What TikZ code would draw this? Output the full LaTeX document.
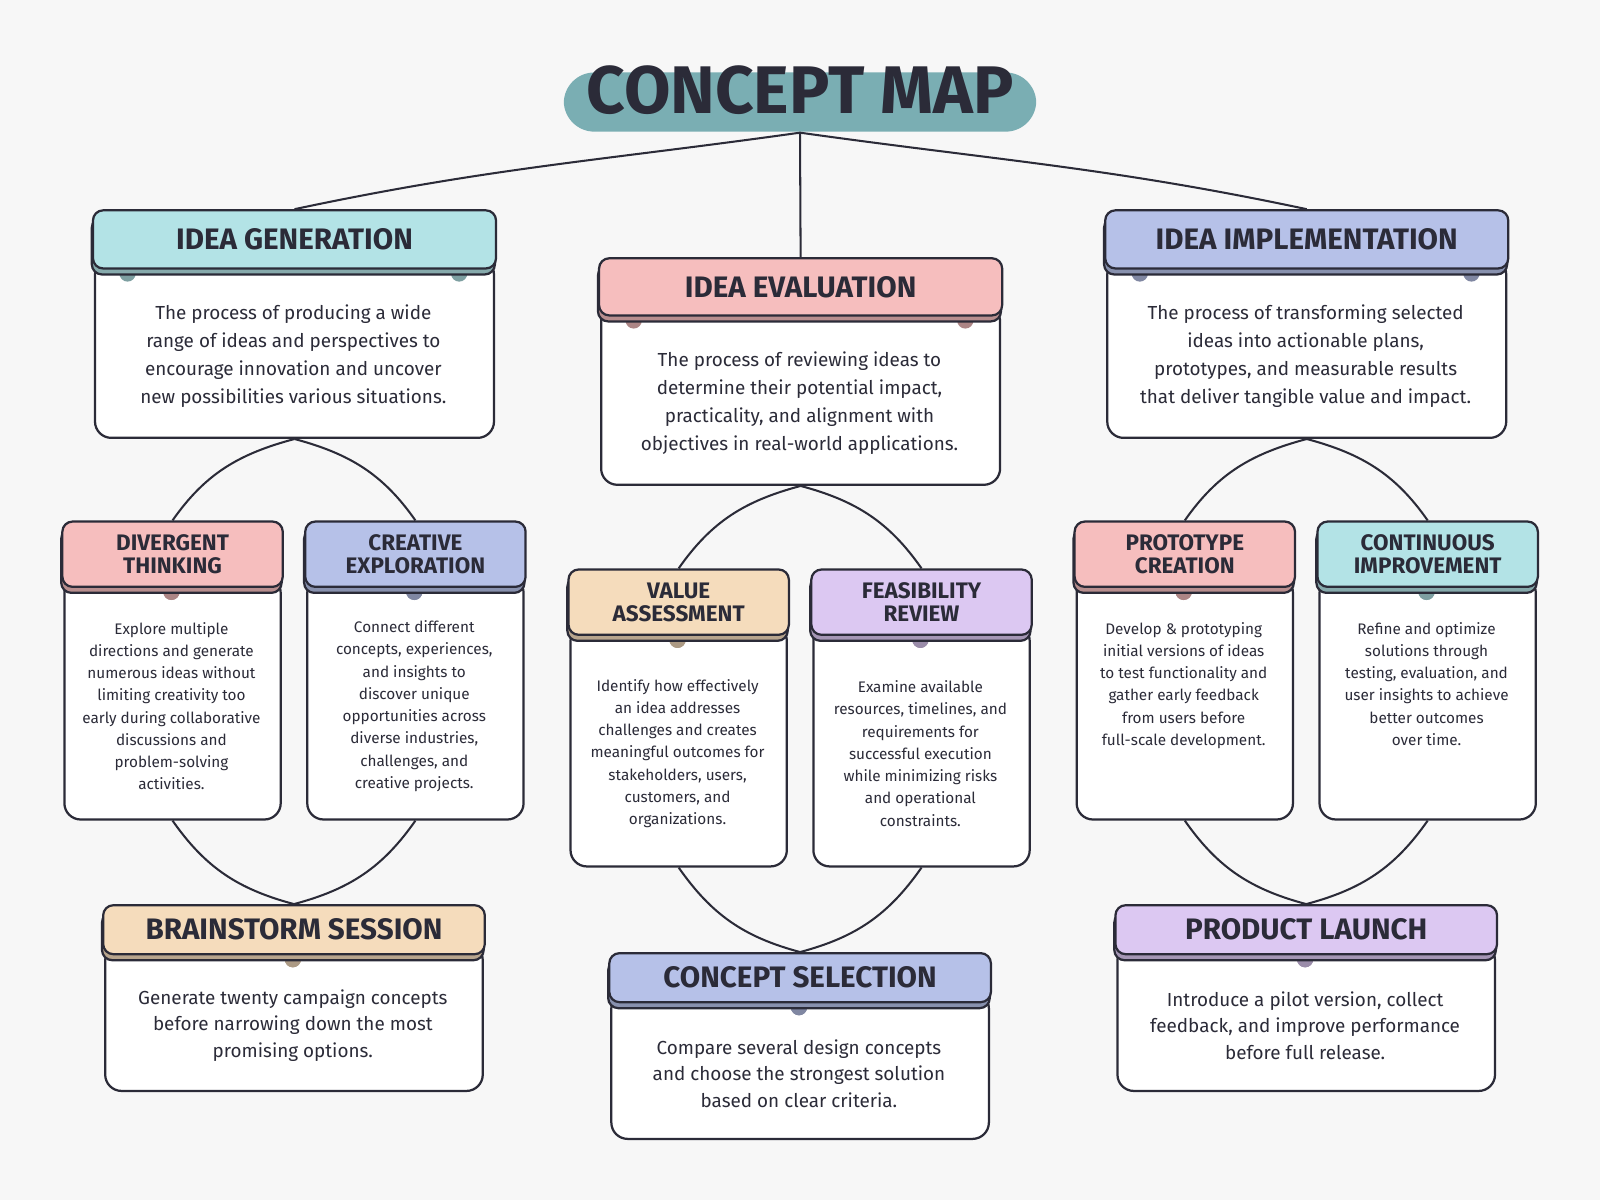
\documentclass[tikz,border=0pt]{standalone}
\usepackage{fontspec}
\setmainfont{Fira Sans}
\usetikzlibrary{calc}
\definecolor{bg}{HTML}{F7F7F7}
\definecolor{ink}{HTML}{2B2B38}
\definecolor{cteal}{HTML}{B3E3E6}
\definecolor{cpink}{HTML}{F6BEBE}
\definecolor{cblue}{HTML}{B6C1E8}
\definecolor{cpeach}{HTML}{F5DCBC}
\definecolor{clav}{HTML}{DCC8F2}
\definecolor{ctitle}{HTML}{7AAEB3}
\tikzset{
 line/.style={draw=ink,line width=2.2pt},
 conn/.style={draw=ink,line width=2pt},
}
\def\hf{\fontsize{29}{31}\selectfont\bfseries}
\def\bodyf{\fontsize{18.5}{27.5}\selectfont}
\def\hoff{35}
% #1 name #2 x1 #3 x2 #4 ytop #5 yhdrbot #6 ybodybot #7 color #8 title #9 body
\newcommand\cmbox[9]{%
 \node[line,fill=white,rounded corners=16pt,inner sep=0pt,anchor=north west,
   minimum width={(#3-#2-4)*1pt},minimum height={(#6-#5+10)*1pt}] (#1b) at (#2+2,#5-10) {};
 \node[align=center,inner sep=0pt,text=ink,font=\bodyf] (#1t)
   at ($(#2,#5+8)!.5!(#3,#6)$) {#9};
 \fill[#7!70!black] ($(#2+\hoff,#5+6)$) circle (8pt);
 \fill[#7!70!black] ($(#3-\hoff,#5+6)$) circle (8pt);
 \draw[line,fill=#7!75!black,rounded corners=10pt] (#2,#4+8) rectangle (#3,#5+7);
 \node[line,fill=#7,rounded corners=10pt,inner sep=0pt,anchor=north west,
   minimum width={(#3-#2)*1pt},minimum height={(#5-#4)*1pt},text=ink,align=center,font=\hf] (#1h) at (#2,#4) {#8};
}
\begin{document}
\begin{tikzpicture}[x=1pt,y=-1pt]
\fill[bg] (0,0) rectangle (1568,1176);
\useasboundingbox (0,0) rectangle (1568,1176);
% title
\node[fill=ctitle,rounded corners=30pt,minimum width=463pt,minimum height=58pt] (tb) at (784,100) {};
\node[text=ink,font=\fontsize{66}{66}\selectfont\bfseries] (title) at (784,88) {CONCEPT MAP};
% boxes
\cmbox{ig}{90}{485}{205}{262}{428}{cteal}{IDEA GENERATION}{The process of producing a wide\\range of ideas and perspectives to\\encourage innovation and uncover\\new possibilities various situations.}
\cmbox{ie}{586}{981}{252}{308}{474}{cpink}{IDEA EVALUATION}{The process of reviewing ideas to\\determine their potential impact,\\practicality, and alignment with\\objectives in real-world applications.}
\cmbox{ii}{1082}{1477}{205}{262}{428}{cblue}{IDEA IMPLEMENTATION}{The process of transforming selected\\ideas into actionable plans,\\prototypes, and measurable results\\that deliver tangible value and impact.}
\def\hf{\fontsize{22}{23}\selectfont\bfseries}
\def\bodyf{\fontsize{15}{21.8}\selectfont}
\def\hoff{108}
\cmbox{dt}{60}{276}{510}{574}{802}{cpink}{DIVERGENT\\THINKING}{Explore multiple\\directions and generate\\numerous ideas without\\limiting creativity too\\early during collaborative\\discussions and\\problem-solving\\activities.}
\cmbox{ce}{298}{514}{510}{574}{802}{cblue}{CREATIVE\\EXPLORATION}{Connect different\\concepts, experiences,\\and insights to\\discover unique\\opportunities across\\diverse industries,\\challenges, and\\creative projects.}
\cmbox{va}{556}{772}{557}{621}{848}{cpeach}{VALUE\\ASSESSMENT}{Identify how effectively\\an idea addresses\\challenges and creates\\meaningful outcomes for\\stakeholders, users,\\customers, and\\organizations.}
\cmbox{fr}{794}{1010}{557}{621}{848}{clav}{FEASIBILITY\\REVIEW}{Examine available\\resources, timelines, and\\requirements for\\successful execution\\while minimizing risks\\and operational\\constraints.}
\cmbox{pc}{1052}{1268}{510}{574}{802}{cpink}{PROTOTYPE\\CREATION}{Develop \& prototyping\\initial versions of ideas\\to test functionality and\\gather early feedback\\from users before\\full-scale development.\\[21.8pt]}
\cmbox{ci}{1290}{1506}{510}{574}{802}{cteal}{CONTINUOUS\\IMPROVEMENT}{Refine and optimize\\solutions through\\testing, evaluation, and\\user insights to achieve\\better outcomes\\over time.\\[21.8pt]}
\def\hf{\fontsize{29}{31}\selectfont\bfseries}
\def\bodyf{\fontsize{18.5}{26}\selectfont}
\def\hoff{187}
\cmbox{bs}{100}{474}{886}{934}{1068}{cpeach}{BRAINSTORM SESSION}{Generate twenty campaign concepts\\before narrowing down the most\\promising options.}
\cmbox{cs}{596}{970}{933}{981}{1115}{cblue}{CONCEPT SELECTION}{Compare several design concepts\\and choose the strongest solution\\based on clear criteria.}
\cmbox{pl}{1092}{1466}{886}{934}{1068}{clav}{PRODUCT LAUNCH}{Introduce a pilot version, collect\\feedback, and improve performance\\before full release.}
% connectors
\draw[conn] (784,130) to[out=188,in=12] (igh.north);
\draw[conn] (784,130) -- (ieh.north);
\draw[conn] (784,130) to[out=-8,in=168] (iih.north);
\foreach \a/\l/\r in {igb/dth/ceh, ieb/vah/frh, iib/pch/cih}{
  \draw[conn] (\a.south) to[out=195,in=55] (\l.north);
  \draw[conn] (\a.south) to[out=-15,in=125] (\r.north);
}
\draw[conn] (dtb.south) to[out=-55,in=165] (bsh.north);
\draw[conn] (ceb.south) to[out=-125,in=15] (bsh.north);
\draw[conn] (vab.south) to[out=-55,in=165] (csh.north);
\draw[conn] (frb.south) to[out=-125,in=15] (csh.north);
\draw[conn] (pcb.south) to[out=-55,in=165] (plh.north);
\draw[conn] (cib.south) to[out=-125,in=15] (plh.north);
\end{tikzpicture}
\end{document}
